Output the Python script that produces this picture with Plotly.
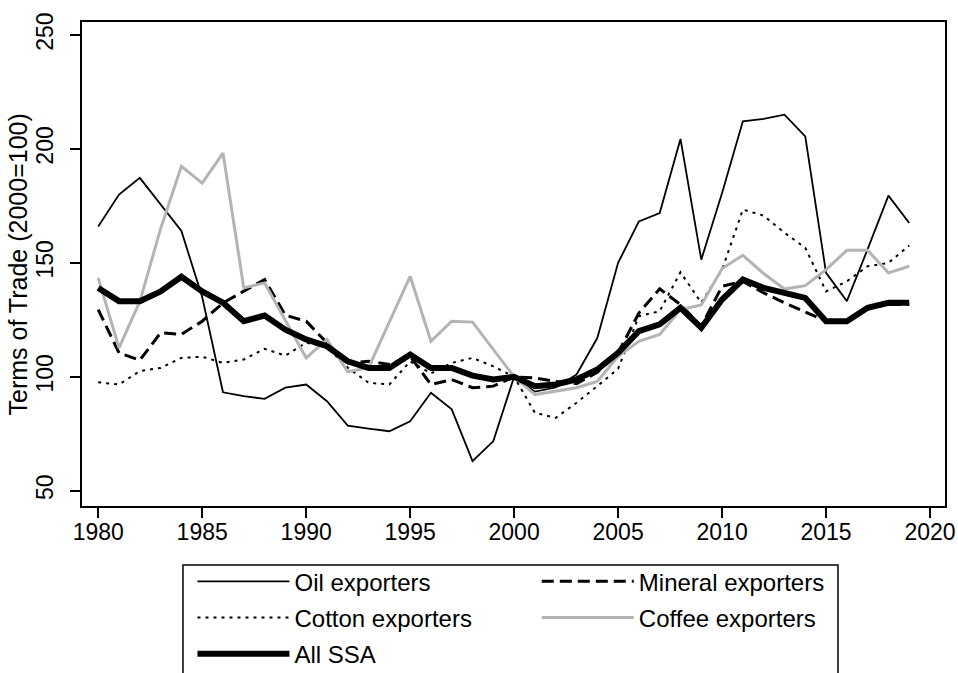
import plotly.graph_objects as go

years = list(range(1980, 2020))

oil = [166, 180, 187.3, 175.5, 164, 135, 93.2, 91.5, 90.3, 95.2,
       96.6, 89.3, 78.6, 77.3, 76.1, 80.5, 93, 85.7, 63, 71.8,
       100, 93.5, 95.3, 101, 117, 150, 168.2, 171.9, 204.4, 151.4,
       180.7, 212.1, 213.2, 215, 205.5, 145.6, 133.2, 156, 179.5, 167.5]

mineral = [129.5, 110.5, 107.3, 119.3, 118.6, 124.4, 132.4, 137.5, 142.7, 127,
           124.4, 114.9, 106.1, 106.8, 105.4, 109, 96.6, 98.8, 95.2, 95.9,
           100, 99.5, 98, 97, 102, 110.5, 128, 138.6, 131.7, 122.2,
           139.7, 141.9, 136.8, 132.5, 128.5, 124.4, 124, 130.3, 131.7, 131.7]

cotton = [97.6, 96.6, 102.5, 103.9, 108.3, 108.8, 106.1, 107.6, 112.3, 109.3,
          115, 113, 104, 97.4, 96.6, 106.8, 101.5, 106.1, 108.3, 104.6,
          100, 84.2, 82, 88.6, 95.9, 103.5, 126.6, 128.8, 145.9, 132.5,
          147, 173.4, 170.7, 163.2, 156.6, 137.5, 141.9, 148.5, 150, 157.6]

coffee = [143.4, 112.7, 133, 165, 192.4, 185, 198.2, 139, 141.2, 125,
          108.3, 116.4, 102.2, 104, 124, 144.1, 115.6, 124.4, 124, 112,
          100, 92.2, 93.7, 95.2, 98, 109, 115.6, 118.6, 129.5, 131.5,
          147.5, 153.3, 145.3, 138.5, 140, 147, 155.5, 155.5, 145.6, 148.5]

all_ssa = [139, 133.2, 133.2, 137.5, 143.9, 137.5, 132.5, 124.4, 126.9, 120.7,
           116.4, 113.4, 106.8, 103.9, 103.9, 109.8, 103.9, 103.9, 100.5, 98.8,
           100, 95.9, 96.6, 98.8, 103.2, 110.5, 120, 123, 130.3, 121.5,
           133.9, 142.7, 139, 136.8, 134.6, 124.4, 124.4, 130.3, 132.5, 132.5]

x_ticks = [1980, 1985, 1990, 1995, 2000, 2005, 2010, 2015, 2020]
y_ticks = [50, 100, 150, 200, 250]
y_title = "Terms of Trade (2000=100)"

FONT = "Liberation Sans, Arial, Helvetica, sans-serif"
GREY = "#b4b4b4"

fig = go.Figure()
fig.add_trace(go.Scatter(x=years, y=oil, mode="lines", name="Oil exporters",
                         line=dict(color="black", width=1.8), legend="legend", legendgroup="a"))
fig.add_trace(go.Scatter(x=years, y=mineral, mode="lines", name="Mineral exporters",
                         line=dict(color="black", width=3, dash="12px,6px"), legend="legend2", legendgroup="b"))
fig.add_trace(go.Scatter(x=years, y=cotton, mode="lines", name="Cotton exporters",
                         line=dict(color="black", width=2, dash="3px,5px"), legend="legend", legendgroup="c"))
fig.add_trace(go.Scatter(x=years, y=coffee, mode="lines", name="Coffee exporters",
                         line=dict(color=GREY, width=3), legend="legend2", legendgroup="d"))
fig.add_trace(go.Scatter(x=years, y=all_ssa, mode="lines", name="All SSA",
                         line=dict(color="black", width=6), legend="legend", legendgroup="e"))

legend_common = dict(
    font=dict(family=FONT, size=24, color="black"),
    bgcolor="rgba(0,0,0,0)",
    borderwidth=0,
    itemwidth=92,
    tracegroupgap=2,
    yanchor="top",
    xanchor="left",
    orientation="v",
)

fig.update_layout(
    width=958, height=673,
    margin=dict(l=82, r=13, t=22, b=167, autoexpand=False),
    paper_bgcolor="white", plot_bgcolor="white",
    font=dict(family=FONT, size=23, color="black"),
    showlegend=True,
    legend=dict(x=0.128, y=-0.11, **legend_common),
    legend2=dict(x=0.527, y=-0.11, **legend_common),
    xaxis=dict(
        range=[1979.22, 2020.72], tickvals=x_ticks, ticktext=[str(v) for v in x_ticks],
        showgrid=False, zeroline=False, showline=True, linecolor="black", linewidth=2,
        mirror=True, ticks="outside", ticklen=10, tickwidth=1.5, tickcolor="black",
        tickfont=dict(family=FONT, size=23), automargin=False, ticklabelstandoff=-6,
    ),
    yaxis=dict(
        range=[43.3, 255.7], tickvals=y_ticks, ticktext=[str(v) for v in y_ticks],
        showgrid=False, zeroline=False, showline=True, linecolor="black", linewidth=2,
        mirror=True, ticks="outside", ticklen=10, tickwidth=1.5, tickcolor="black",
        tickangle=-90, tickfont=dict(family=FONT, size=23), automargin=False,
        ticklabelstandoff=8,
    ),
    annotations=[dict(text=y_title, xref="paper", yref="paper", x=-0.0736, y=0.5,
                      xanchor="center", yanchor="middle", textangle=-90, showarrow=False,
                      font=dict(family=FONT, size=25, color="black"))],
    shapes=[dict(type="rect", xref="paper", yref="paper",
                 x0=0.117, x1=0.876, y0=-0.122, y1=-0.6,
                 line=dict(color="black", width=1.5), fillcolor="rgba(0,0,0,0)", layer="above")],
)

fig.write_html("out.html", config={"displayModeBar": False},
               post_script="document.body.style.margin='0';document.body.style.padding='0';")
